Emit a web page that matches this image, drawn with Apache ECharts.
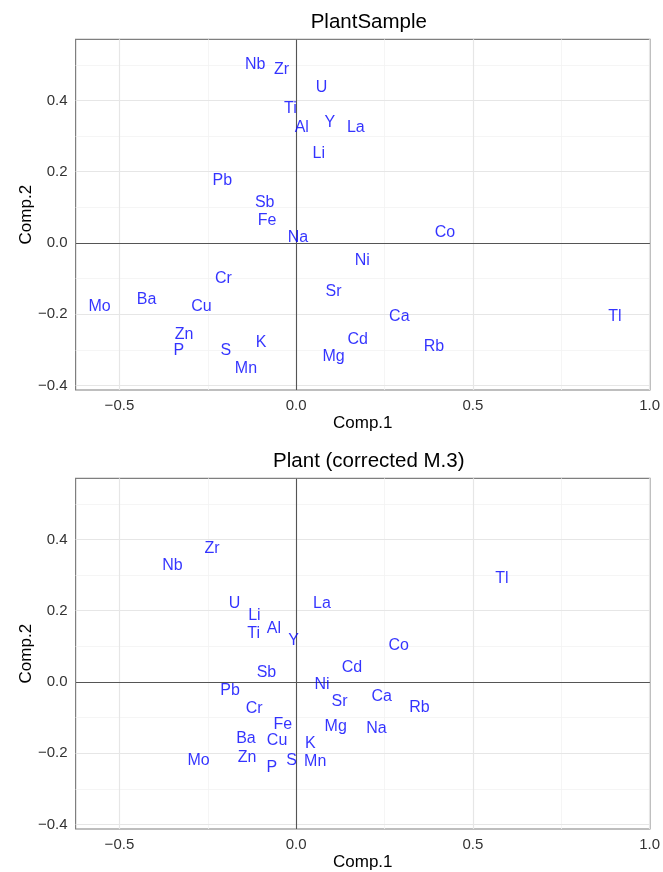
<!DOCTYPE html>
<html>
<head>
<meta charset="utf-8">
<title>PlantSample biplots</title>
<script src="https://cdn.jsdelivr.net/npm/echarts@6/dist/echarts.min.js"></script>
<style>
  html, body { margin: 0; padding: 0; background: #ffffff; }
  #chart { width: 663px; height: 872px; }
</style>
</head>
<body>
<div id="chart"></div>
<script>
// Element labels shared by both panels
const elements = ['Al','Ba','Ca','Cd','Co','Cr','Cu','Fe','K','La','Li','Mg','Mn','Mo','Na',
                  'Nb','Ni','P','Pb','Rb','S','Sb','Sr','Ti','Tl','U','Y','Zn','Zr'];

// Panel 1: PlantSample loadings
const sampleComp1 = [0.016,-0.423,0.292,0.174,0.421,-0.206,-0.268,-0.082,-0.099,0.169,0.064,0.106,-0.142,-0.556,0.005,
                     -0.116,0.187,-0.332,-0.209,0.390,-0.199,-0.089,0.106,-0.016,0.902,0.072,0.095,-0.317,-0.041];
const sampleComp2 = [0.325,-0.159,-0.208,-0.271,0.029,-0.100,-0.178,0.064,-0.281,0.324,0.251,-0.320,-0.352,-0.178,0.015,
                     0.501,-0.050,-0.303,0.174,-0.292,-0.301,0.113,-0.136,0.377,-0.208,0.435,0.338,-0.256,0.486];

// Panel 2: Plant (corrected M.3) loadings
const correctedComp1 = [-0.063,-0.142,0.242,0.158,0.290,-0.119,-0.054,-0.038,0.040,0.073,-0.118,0.112,0.054,-0.276,0.227,
                        -0.350,0.073,-0.069,-0.187,0.349,-0.013,-0.084,0.123,-0.120,0.582,-0.174,-0.007,-0.139,-0.238];
const correctedComp2 = [0.151,-0.160,-0.042,0.040,0.103,-0.074,-0.166,-0.119,-0.173,0.220,0.186,-0.126,-0.224,-0.220,-0.131,
                        0.326,-0.007,-0.241,-0.025,-0.072,-0.222,0.026,-0.054,0.136,0.290,0.220,0.115,-0.212,0.375];

const panelTitles = ['PlantSample', 'Plant (corrected M.3)'];

// Axis ticks and grid positions
const xTicks = [-0.5, 0.0, 0.5, 1.0];
const yTicks = [-0.4, -0.2, 0.0, 0.2, 0.4];
const xMinor = [-0.25, 0.25, 0.75];
const yMinor = [-0.3, -0.1, 0.1, 0.3, 0.5];
const xRange = [-0.624, 1.001];
const yRange = [-0.413, 0.572];

const FONT = 'Liberation Sans, Arial, Helvetica, sans-serif';
const fmt = v => (v < 0 ? '\u2212' : '') + Math.abs(v).toFixed(1);

const panelTop = [39.3, 478.3];
const panelHeight = 350.7;
const panelLeft = 75.6;
const panelWidth = 576.4;

function buildPoints(xs, ys) {
  return elements.map((name, i) => ({ name: name, value: [xs[i], ys[i]] }));
}

const grids = [], xAxes = [], yAxes = [], titles = [], series = [];
const panels = [
  { xs: sampleComp1, ys: sampleComp2 },
  { xs: correctedComp1, ys: correctedComp2 }
];

panels.forEach((p, k) => {
  grids.push({
    left: panelLeft, top: panelTop[k], width: panelWidth, height: panelHeight,
    show: true, backgroundColor: '#ffffff', borderColor: '#7f7f7f', borderWidth: 1.2,
    containLabel: false
  });
  titles.push({
    text: panelTitles[k],
    left: panelLeft + panelWidth / 2, top: panelTop[k] - 32.5,
    textAlign: 'center',
    textStyle: { fontFamily: FONT, fontSize: 20.5, fontWeight: 'normal', color: '#000000' }
  });
  xAxes.push({
    type: 'value', gridIndex: k, min: xRange[0], max: xRange[1],
    name: 'Comp.1', nameLocation: 'middle', nameGap: 25, nameMoveOverlap: false,
    nameTextStyle: { fontFamily: FONT, fontSize: 17, color: '#000000' },
    axisLine: { show: false },
    axisTick: { show: true, length: 5, customValues: xTicks, lineStyle: { color: '#333333', width: 1 } },
    axisLabel: { customValues: xTicks, formatter: fmt, margin: 8,
                 fontFamily: FONT, fontSize: 15, color: '#333333' },
    splitLine: { show: false }
  });
  yAxes.push({
    type: 'value', gridIndex: k, min: yRange[0], max: yRange[1],
    name: 'Comp.2', nameLocation: 'middle', nameGap: 41, nameRotate: 90, nameMoveOverlap: false,
    nameTextStyle: { fontFamily: FONT, fontSize: 17, color: '#000000' },
    axisLine: { show: false },
    axisTick: { show: true, length: 5, customValues: yTicks, lineStyle: { color: '#333333', width: 1 } },
    axisLabel: { customValues: yTicks, formatter: fmt, margin: 8,
                 fontFamily: FONT, fontSize: 15, color: '#333333' },
    splitLine: { show: false }
  });

  // Background grid lines (major and minor)
  const gridLines = []
    .concat(xMinor.map(v => ({ xAxis: v, lineStyle: { color: '#f3f3f3', width: 0.8, type: 'solid' } })))
    .concat(yMinor.map(v => ({ yAxis: v, lineStyle: { color: '#f3f3f3', width: 0.8, type: 'solid' } })))
    .concat(xTicks.map(v => ({ xAxis: v, lineStyle: { color: '#e6e6e6', width: 1.2, type: 'solid' } })))
    .concat(yTicks.map(v => ({ yAxis: v, lineStyle: { color: '#e6e6e6', width: 1.2, type: 'solid' } })));
  series.push({
    type: 'scatter', xAxisIndex: k, yAxisIndex: k, data: [], z: 1, silent: true,
    markLine: { z: 1, silent: true, symbol: ['none', 'none'], animation: false,
                label: { show: false }, emphasis: { disabled: true }, data: gridLines }
  });

  // Reference lines through the origin
  series.push({
    type: 'scatter', xAxisIndex: k, yAxisIndex: k, data: [], z: 2, silent: true,
    markLine: { z: 2, silent: true, symbol: ['none', 'none'], animation: false,
                label: { show: false }, emphasis: { disabled: true },
                lineStyle: { color: '#555555', width: 1.1, type: 'solid' },
                data: [{ xAxis: 0 }, { yAxis: 0 }] }
  });

  // Element name labels placed at their loadings
  series.push({
    type: 'scatter', xAxisIndex: k, yAxisIndex: k, z: 10, silent: true,
    symbolSize: 1, itemStyle: { color: 'rgba(0,0,0,0)' },
    data: buildPoints(p.xs, p.ys),
    label: {
      show: true, position: 'inside', formatter: '{b}',
      fontFamily: FONT, fontSize: 16, color: '#0000ff',
      align: 'center', verticalAlign: 'middle'
    },
    labelLayout: { hideOverlap: false },
    emphasis: { disabled: true }
  });
});

const chart = echarts.init(document.getElementById('chart'), null, { renderer: 'canvas' });
chart.setOption({
  animation: false,
  backgroundColor: '#ffffff',
  title: titles,
  grid: grids,
  xAxis: xAxes,
  yAxis: yAxes,
  series: series
});
</script>
</body>
</html>
